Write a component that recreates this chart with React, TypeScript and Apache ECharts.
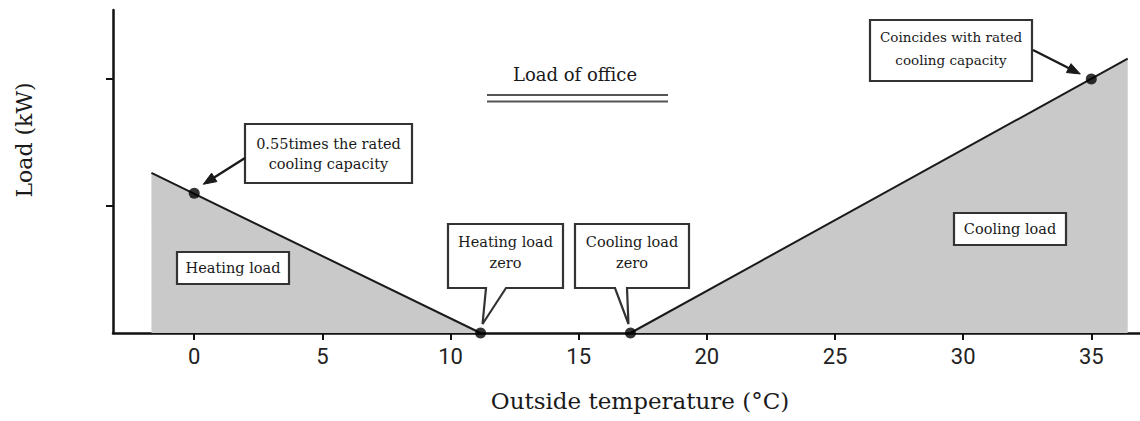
import React, { useEffect, useRef } from "react";
import * as echarts from "echarts";

// ---- data (outside temperature °C, load in units of rated cooling capacity) ----
const heatingLoad: number[][] = [[-1.67, 1.26], [11.17, 0]];
const coolingLoad: number[][] = [[17.02, 0], [36.42, 2.16]];
const keyPoints: number[][] = [[0, 1.1], [11.17, 0], [17.02, 0], [35, 2.0]];
const xTicks = [0, 5, 10, 15, 20, 25, 30, 35];
const yTicks = [1, 2];
const xRange = [-3.17, 36.9];
const yRange = [0, 2.543];

const titleText = "Load of office";
const xName = "Outside temperature (°C)";
const yName = "Load (kW)";
const noteRated = "0.55times the rated\ncooling capacity";
const noteHeatZero = "Heating load\nzero";
const noteCoolZero = "Cooling load\nzero";
const noteHeat = "Heating load";
const noteCool = "Cooling load";
const noteCoincide = "Coincides with rated\ncooling capacity";

const SERIF = "'DejaVu Serif', 'Liberation Serif', serif";
const INK = "#1a1a1a";
const BOX = "#333";

export default function App() {
  const ref = useRef<HTMLDivElement>(null);
  useEffect(() => {
    const el = ref.current!;
    const chart = echarts.init(el, null, { renderer: "svg" });
    chart.setOption({
      animation: false,
      backgroundColor: "#fff",
      grid: { left: 113, right: 0, top: 10, bottom: 88 },
      xAxis: {
        type: "value",
        min: xRange[0],
        max: xRange[1],
        splitLine: { show: false },
        axisLine: { onZero: false, lineStyle: { color: "#111", width: 2.5 } },
        axisTick: {
          show: true,
          length: 7,
          customValues: xTicks,
          lineStyle: { color: "#111", width: 2 },
        },
        axisLabel: {
          customValues: xTicks,
          margin: 12,
          fontSize: 22,
          fontFamily: "'Liberation Sans Narrow', Roboto, 'Liberation Sans', sans-serif",
          color: "#222",
        },
      },
      yAxis: {
        type: "value",
        min: yRange[0],
        max: yRange[1],
        splitLine: { show: false },
        axisLine: { show: true, onZero: false, lineStyle: { color: "#111", width: 2.5 } },
        axisTick: {
          show: true,
          length: 7,
          customValues: yTicks,
          lineStyle: { color: "#111", width: 2 },
        },
        axisLabel: { show: false },
      },
      series: [
        {
          type: "line",
          data: heatingLoad,
          symbol: "none",
          lineStyle: { color: INK, width: 2 },
          areaStyle: { color: "#c9c9c9", opacity: 1 },
          z: 2,
        },
        {
          type: "line",
          data: coolingLoad,
          symbol: "none",
          lineStyle: { color: INK, width: 2 },
          areaStyle: { color: "#c9c9c9", opacity: 1 },
          z: 2,
        },
        {
          type: "scatter",
          data: keyPoints,
          symbolSize: 11,
          itemStyle: { color: "#000" },
          z: 5,
        },
      ],
    });

    const px = (p: number[]) => chart.convertToPixel({ gridIndex: 0 }, p) as number[];
    const dRated = px(keyPoints[0]);
    const dHeat0 = px(keyPoints[1]);
    const dCool0 = px(keyPoints[2]);
    const dCoin = px(keyPoints[3]);

    const arrow = (x1: number, y1: number, x2: number, y2: number) => {
      const dx = x2 - x1, dy = y2 - y1;
      const len = Math.hypot(dx, dy);
      const ux = dx / len, uy = dy / len;
      const hl = 13, hw = 5;
      const bx = x2 - ux * hl, by = y2 - uy * hl;
      return [
        { type: "line", z: 100, shape: { x1, y1, x2: bx + ux * 2, y2: by + uy * 2 }, style: { stroke: INK, lineWidth: 2.4 } },
        {
          type: "polygon",
          z: 100,
          shape: { points: [[x2, y2], [bx - uy * hw, by + ux * hw], [bx + uy * hw, by - ux * hw]] },
          style: { fill: INK, stroke: INK, lineWidth: 1 },
        },
      ];
    };

    const boxText = (cx: number, cy: number, text: string, size = 14.5, lh = 20) => ({
      type: "text",
      z: 101,
      x: cx,
      y: cy,
      style: { text, fill: INK, font: `${size}px ${SERIF}`, align: "center", verticalAlign: "middle", lineHeight: lh },
    });
    const rect = (x: number, y: number, w: number, h: number) => ({
      type: "rect",
      z: 100,
      shape: { x, y, width: w, height: h },
      style: { fill: "#fff", stroke: BOX, lineWidth: 2.2 },
    });

    // callout tips just above the zero-load dots
    const hTip = [dHeat0[0] + 2, dHeat0[1] - 9];
    const cTip = [dCool0[0] - 2, dCool0[1] - 9];

    const graphic: any[] = [
      // title with double underline
      { type: "text", z: 100, x: 575, y: 74, style: { text: titleText, fill: INK, font: `18px ${SERIF}`, align: "center", verticalAlign: "middle" } },
      { type: "line", z: 100, shape: { x1: 487, y1: 95, x2: 668, y2: 95 }, style: { stroke: "#555", lineWidth: 2 } },
      { type: "line", z: 100, shape: { x1: 487, y1: 101.5, x2: 668, y2: 101.5 }, style: { stroke: "#555", lineWidth: 2 } },
      // axis names
      { type: "text", z: 100, x: 640, y: 401, style: { text: xName, fill: INK, font: `23px ${SERIF}`, align: "center", verticalAlign: "middle" } },
      { type: "text", z: 100, x: 24, y: 140, rotation: Math.PI / 2, style: { text: yName, fill: INK, font: `22px ${SERIF}`, align: "center", verticalAlign: "middle" } },
      // 0.55 times rated
      rect(245, 124, 167, 59),
      boxText(328.5, 153.5, noteRated),
      ...arrow(245, 158, dRated[0] + 9, dRated[1] - 9),
      // heating load zero callout
      {
        type: "polygon",
        z: 100,
        shape: { points: [[448, 224], [563, 224], [563, 288], [506, 288], hTip, [486, 288], [448, 288]] },
        style: { fill: "#fff", stroke: BOX, lineWidth: 2.2 },
      },
      boxText(505.5, 252.5, noteHeatZero, 14.5, 21),
      // cooling load zero callout
      {
        type: "polygon",
        z: 100,
        shape: { points: [[575, 224], [689, 224], [689, 288], [627, 288], cTip, [615, 288], [575, 288]] },
        style: { fill: "#fff", stroke: BOX, lineWidth: 2.2 },
      },
      boxText(632, 252.5, noteCoolZero, 14.5, 21),
      // region labels
      rect(177, 252, 112, 32),
      boxText(233, 268, noteHeat),
      rect(954, 213, 112, 32),
      boxText(1010, 229, noteCool),
      // coincides with rated
      rect(870, 20, 162, 61),
      boxText(951, 48.5, noteCoincide, 13.5, 23),
      ...arrow(1033, 50, dCoin[0] - 11, dCoin[1] - 5),
    ];
    chart.setOption({ graphic });

    return () => chart.dispose();
  }, []);
  return (
    <div
      ref={ref}
      style={{ position: "absolute", left: 0, top: 0, width: 1140, height: 421, background: "#fff" }}
    />
  );
}
